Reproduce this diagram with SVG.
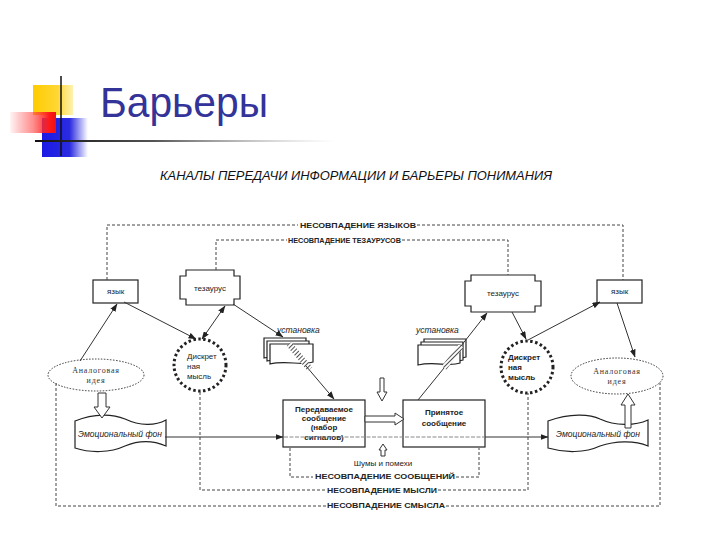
<svg xmlns="http://www.w3.org/2000/svg" width="720" height="540" viewBox="0 0 720 540">
<style>
.ln{fill:none;stroke:#333;stroke-width:1}
.dsh{fill:none;stroke:#444;stroke-width:1;stroke-dasharray:3 2}
.dot{fill:none;stroke:#222;stroke-width:3;stroke-dasharray:2.5 2.5}
.ell{fill:#fff;stroke:#333;stroke-width:1;stroke-dasharray:1.5 1.5}
.box{fill:#fff;stroke:#222;stroke-width:1.2}
.hol{fill:#fff;stroke:#333;stroke-width:1}
.lbl{font-family:"Liberation Sans",Arial,sans-serif;font-size:7.5px;font-weight:bold;fill:#222}
.sm{font-family:"Liberation Sans",Arial,sans-serif;font-size:8px;fill:#222}
.smb{font-family:"Liberation Sans",Arial,sans-serif;font-size:8px;font-weight:bold;fill:#222}
.ser{font-family:"Liberation Serif","Times New Roman",serif;font-size:8px;fill:#333;letter-spacing:0.8px}
.it{font-family:"Liberation Sans",Arial,sans-serif;font-size:8.5px;font-style:italic;fill:#222}
</style>
<defs>
<marker id="ah" markerWidth="8" markerHeight="6" refX="7.5" refY="3" orient="auto" markerUnits="userSpaceOnUse"><path d="M0,0 L8,3 L0,6 z" fill="#222"/></marker>
<marker id="as" markerWidth="8" markerHeight="6" refX="0.5" refY="3" orient="auto" markerUnits="userSpaceOnUse"><path d="M8,0 L0,3 L8,6 z" fill="#222"/></marker>
<linearGradient id="gy" x1="0" y1="0" x2="1" y2="0"><stop offset="0" stop-color="#FFCC00"/><stop offset="0.6" stop-color="#FFD633"/><stop offset="1" stop-color="#FFF2B0"/></linearGradient>
<linearGradient id="gr" x1="0" y1="0" x2="1" y2="0"><stop offset="0" stop-color="#FF3333" stop-opacity="0.05"/><stop offset="0.5" stop-color="#FF4444" stop-opacity="0.6"/><stop offset="0.85" stop-color="#FF1A1A"/><stop offset="1" stop-color="#EE1111"/></linearGradient>
<linearGradient id="gb" x1="0" y1="0" x2="1" y2="0"><stop offset="0" stop-color="#1A1AE6"/><stop offset="0.6" stop-color="#2B2BE0"/><stop offset="1" stop-color="#2B2BE0" stop-opacity="0"/></linearGradient>
<linearGradient id="gl" x1="0" y1="0" x2="1" y2="0"><stop offset="0" stop-color="#111"/><stop offset="0.4" stop-color="#555"/><stop offset="1" stop-color="#aaa" stop-opacity="0"/></linearGradient>
<pattern id="hatch" width="3" height="3" patternUnits="userSpaceOnUse" patternTransform="rotate(45)"><rect width="3" height="3" fill="#fff"/><line x1="0" y1="0" x2="0" y2="3" stroke="#222" stroke-width="1.6"/></pattern>
</defs>
<rect width="720" height="540" fill="#fff"/>

<g id="title">
<rect x="33" y="85" width="40" height="30" fill="url(#gy)"/>
<rect x="42" y="118" width="46" height="39" fill="url(#gb)"/>
<rect x="10" y="112" width="46" height="21" fill="url(#gr)"/>
<line x1="61" y1="76" x2="61" y2="156" stroke="#111" stroke-width="1.5"/>
<rect x="35" y="140" width="300" height="2" fill="url(#gl)"/>
<text x="100" y="117" font-family="Liberation Sans,Arial,sans-serif" font-size="43" fill="#333399" textLength="168" lengthAdjust="spacingAndGlyphs">Барьеры</text>
</g>

<text x="160" y="180" font-family="Liberation Sans,Arial,sans-serif" font-size="12" font-style="italic" fill="#111" textLength="392" lengthAdjust="spacingAndGlyphs">КАНАЛЫ ПЕРЕДАЧИ ИНФОРМАЦИИ И БАРЬЕРЫ ПОНИМАНИЯ</text>

<!-- nodes -->
<g id="yazyk-left">
<rect class="box" x="93" y="280" width="45" height="23"/>
<text class="sm" x="115.5" y="294" text-anchor="middle">язык</text>
</g>
<g id="yazyk-right">
<rect class="box" x="597" y="280" width="45" height="23"/>
<text class="sm" x="619.5" y="294" text-anchor="middle">язык</text>
</g>
<g id="tezaurus-left">
<path class="box" d="M186,270 L234,270 L234,276 L240,276 L240,299 L234,299 L234,305 L186,305 L186,299 L180,299 L180,276 L186,276 Z"/>
<text class="sm" x="210" y="291" text-anchor="middle">тезаурус</text>
</g>
<g id="tezaurus-right">
<path class="box" d="M471,275 L535,275 L535,281 L541,281 L541,306 L535,306 L535,312 L471,312 L471,306 L465,306 L465,281 L471,281 Z"/>
<text class="sm" x="503" y="296" text-anchor="middle">тезаурус</text>
</g>
<g id="analog-left">
<ellipse class="ell" cx="96" cy="375" rx="48" ry="16"/>
<text class="ser" x="96" y="373" text-anchor="middle">Аналоговая</text>
<text class="ser" x="96" y="383" text-anchor="middle">идея</text>
</g>
<g id="analog-right">
<ellipse class="ell" cx="617" cy="376" rx="46" ry="18"/>
<text class="ser" x="617" y="374" text-anchor="middle">Аналоговая</text>
<text class="ser" x="617" y="384" text-anchor="middle">идея</text>
</g>
<g id="discrete-left">
<circle class="dot" cx="200" cy="365" r="26"/>
<text class="sm" x="187" y="359">Дискрет</text>
<text class="sm" x="187" y="369">ная</text>
<text class="sm" x="187" y="379">мысль</text>
</g>
<g id="discrete-right">
<circle class="dot" cx="527" cy="367" r="26"/>
<text class="smb" x="508" y="360">Дискрет</text>
<text class="smb" x="508" y="370">ная</text>
<text class="smb" x="508" y="380">мысль</text>
</g>
<g id="emo-left">
<path class="box" d="M75,421 C95,413 113,414 125,419 C140,426 155,426 166,420 L166,446 C152,440 137,441 125,446 C110,453 90,453 75,448 Z"/>
<text class="it" x="120" y="437" text-anchor="middle">Эмоциональный фон</text>
</g>
<g id="emo-right">
<path class="box" d="M548,421 C570,413 590,414 600,419 C615,426 635,426 648,420 L648,446 C634,440 615,441 600,446 C585,453 565,453 548,448 Z"/>
<text class="it" x="598" y="437" text-anchor="middle">Эмоциональный фон</text>
</g>
<g id="ustanovka-left">
<text class="it" x="277" y="333">установка</text>
<path class="box" d="M264,338 L306,338 L306,356 C295,360 280,354 264,358 Z"/>
<path class="box" d="M267,341 L309,341 L309,359 C298,363 283,357 267,361 Z"/>
<path class="box" d="M270,344 L313,344 L313,362 C302,366 286,360 270,364 Z"/>
<path d="M289,344 L310,369" stroke="url(#hatch)" stroke-width="6" fill="none"/>
</g>
<g id="ustanovka-right">
<text class="it" x="416" y="333">установка</text>
<path class="box" d="M424,339 L466,339 L466,357 C455,361 440,355 424,359 Z"/>
<path class="box" d="M421,342 L463,342 L463,360 C452,364 437,358 421,362 Z"/>
<path class="box" d="M418,345 L460,345 L460,363 C449,367 434,361 418,365 Z"/>
<path d="M444,368 L461,346" stroke="url(#hatch)" stroke-width="6" fill="none"/>
</g>
<g id="sent">
<rect class="box" x="283" y="400" width="82" height="47"/>
<text class="smb" x="324" y="412" text-anchor="middle">Передаваемое</text>
<text class="smb" x="324" y="421" text-anchor="middle">сообщение</text>
<text class="smb" x="324" y="430" text-anchor="middle">(набор</text>
<text class="smb" x="324" y="440" text-anchor="middle">сигналов)</text>
</g>
<g id="received">
<rect class="box" x="403" y="400" width="82" height="47"/>
<text class="smb" x="444" y="415" text-anchor="middle" font-size="9">Принятое</text>
<text class="smb" x="444" y="426" text-anchor="middle" font-size="9">сообщение</text>
</g>

<!-- connectors -->
<g id="connectors">
<path class="dsh" d="M107,280 L107,225 L298,225 M417,225 L623,225 L623,280"/>
<path class="dsh" d="M216,270 L216,240 L287,240 M402,240 L508,240 L508,275"/>
<path class="dsh" d="M56,383 L56,506 L327,506 M446,506 L660,506 L660,383"/>
<path class="dsh" d="M200,392 L200,490 L326,490 M438,490 L528,490 L528,393"/>
<path class="dsh" d="M290,448 L290,477 L313,477 M456,477 L479,477 L479,448"/>
<path class="ln" d="M80,361 L117,304" marker-end="url(#ah)"/>
<path class="ln" d="M124,302 L196,339" marker-end="url(#ah)"/>
<path class="ln" d="M202,339 L225,306" marker-start="url(#as)" marker-end="url(#ah)"/>
<path class="ln" d="M233,304 L283,337" marker-end="url(#ah)"/>
<path class="ln" d="M306,366 L334,399" marker-end="url(#ah)"/>
<path class="ln" d="M512,312 L526,339" marker-end="url(#ah)"/>
<path class="ln" d="M528,340 L600,302" marker-end="url(#ah)"/>
<path class="ln" d="M617,303 L635,357" marker-end="url(#ah)"/>
<path class="ln" d="M418,400 L444,368 M461,346 L487,313" marker-end="url(#ah)"/>
<path class="ln" d="M165,437 L283,437" marker-end="url(#ah)"/>
<path d="M284,437 L485,437" stroke="#888" stroke-width="1" stroke-dasharray="4 1.5" fill="none"/>
<path class="ln" d="M485,437 L548,437" marker-end="url(#ah)"/>
<path class="hol" d="M98,393 L106,393 L106,407 L110,407 L102,418 L94,407 L98,407 Z"/>
<path class="hol" d="M625,428 L631,428 L631,405 L635,405 L628,394 L621,405 L625,405 Z"/>
<path class="hol" d="M380,378 L384,378 L384,392 L387,392 L382,401 L377,392 L380,392 Z"/>
<path class="hol" d="M381,456 L385,456 L385,450 L387,450 L383,444 L379,450 L381,450 Z"/>
<path class="hol" d="M365,416 L395,416 L395,413 L404,419 L395,425 L395,422 L365,422 Z"/>
</g>

<!-- labels -->
<text class="lbl" x="300" y="228" textLength="116" lengthAdjust="spacingAndGlyphs">НЕСОВПАДЕНИЕ ЯЗЫКОВ</text>
<text class="lbl" x="288" y="243" textLength="113" lengthAdjust="spacingAndGlyphs">НЕСОВПАДЕНИЕ ТЕЗАУРУСОВ</text>
<text class="sm" x="383" y="466" text-anchor="middle" font-size="7">Шумы и помехи</text>
<text class="lbl" x="315" y="479" textLength="140" lengthAdjust="spacingAndGlyphs">НЕСОВПАДЕНИЕ СООБЩЕНИЙ</text>
<text class="lbl" x="327" y="493" textLength="110" lengthAdjust="spacingAndGlyphs">НЕСОВПАДЕНИЕ МЫСЛИ</text>
<text class="lbl" x="327" y="508" textLength="118" lengthAdjust="spacingAndGlyphs">НЕСОВПАДЕНИЕ СМЫСЛА</text>
</svg>
